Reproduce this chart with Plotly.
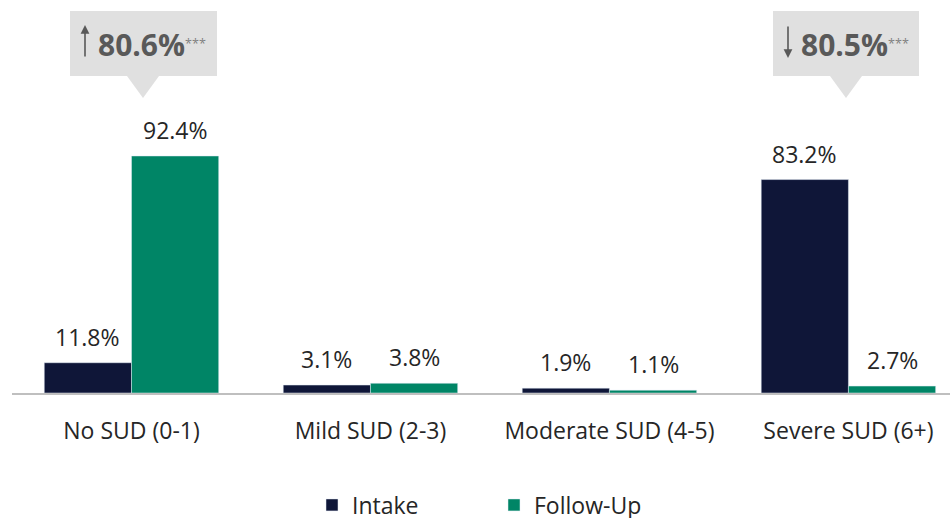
import plotly.graph_objects as go

categories = ["No SUD (0-1)", "Mild SUD (2-3)", "Moderate SUD (4-5)", "Severe SUD (6+)"]
intake = [11.8, 3.1, 1.9, 83.2]
follow_up = [92.4, 3.8, 1.1, 2.7]
callout_values = ["80.6%", "80.5%"]
callout_dirs = ["up", "down"]

NAVY = "#0f1638"
GREEN = "#008566"
TXT = "#262626"
CALL = "#595959"
FONT = "Open Sans"

W, H = 951, 518
ML, MR, MT, MB = 12, 1, 0, 125
XR = [-0.5, 3.425]
YR = [0, 153.2]
BARGAP = 0.27
pw = W - ML - MR
ph = H - MT - MB


def px2x(px):
    return XR[0] + (px - ML) / pw * (XR[1] - XR[0])


def py2y(py):
    return YR[0] + (ph - (py - MT)) / ph * (YR[1] - YR[0])


fig = go.Figure()
fig.add_trace(go.Bar(x=categories, y=intake, name="Intake", marker_color=NAVY))
fig.add_trace(go.Bar(x=categories, y=follow_up, name="Follow-Up", marker_color=GREEN))

annotations = []
half = (1 - BARGAP) / 4
for i in range(len(categories)):
    for vals, sgn in ((intake, -1), (follow_up, 1)):
        annotations.append(dict(x=i + sgn * half, y=vals[i], xref="x", yref="y",
                                text=f"{vals[i]:.1f}%", showarrow=False, yshift=26,
                                font=dict(size=23, color=TXT, family=FONT),
                                xanchor="center", yanchor="middle"))

# callout boxes (pixel geometry from reference)
boxes = [dict(x0=70, x1=217, tip=143, arrow_px=85, text_px=96),
         dict(x0=773, x1=919, tip=846, arrow_px=788, text_px=799)]
shapes = []
for b, val, d in zip(boxes, callout_values, callout_dirs):
    yt, yb, ytip = py2y(11), py2y(76), py2y(98)
    shapes.append(dict(type="rect", xref="x", yref="y", x0=px2x(b["x0"]), x1=px2x(b["x1"]),
                       y0=yb, y1=yt, fillcolor="#e0e0e0", line_width=0, layer="below"))
    shapes.append(dict(type="path", xref="x", yref="y",
                       path=f"M {px2x(b['tip']-16)} {yb} L {px2x(b['tip']+16)} {yb} L {px2x(b['tip'])} {ytip} Z",
                       fillcolor="#e0e0e0", line_width=0, layer="below"))
    if d == "up":
        head, ay = 25, 33
    else:
        head, ay = 58, -33
    annotations.append(dict(x=px2x(b["arrow_px"]), y=py2y(head), xref="x", yref="y",
                            text="", showarrow=True, ax=0, ay=ay, arrowhead=2,
                            arrowsize=1.1, arrowwidth=1.6, arrowcolor=CALL, standoff=0))
    annotations.append(dict(x=px2x(b["text_px"]), y=py2y(44), xref="x", yref="y",
                            showarrow=False, xanchor="left", yanchor="middle",
                            text=f"<b>{val}</b><span style='font-size:18px;color:#808080'><sup>***</sup></span>",
                            font=dict(size=30, color=CALL, family=FONT)))

fig.update_layout(
    width=W, height=H,
    margin=dict(l=ML, r=MR, t=MT, b=MB, autoexpand=False),
    paper_bgcolor="white", plot_bgcolor="white",
    barmode="group", bargap=BARGAP, bargroupgap=0,
    font=dict(family=FONT, color=TXT, size=23),
    xaxis=dict(range=XR, showline=True, linecolor="#bfbfbf", linewidth=2,
               ticks="", tickfont=dict(size=23, color=TXT, family=FONT), showgrid=False,
               ticklabelstandoff=16, automargin=False),
    yaxis=dict(range=YR, visible=False, showgrid=False, zeroline=False, automargin=False),
    legend=dict(orientation="h", x=(312 - ML) / pw, xanchor="left", y=(ph - (505 - MT)) / ph,
                yanchor="middle", font=dict(size=23, color=TXT, family=FONT), entrywidth=137,
                entrywidthmode="pixels"),
    shapes=shapes, annotations=annotations,
    showlegend=True,
)

fig.write_html("out.html", config={"displayModeBar": False},
               post_script="document.body.style.margin='0';document.body.style.overflow='hidden';")
